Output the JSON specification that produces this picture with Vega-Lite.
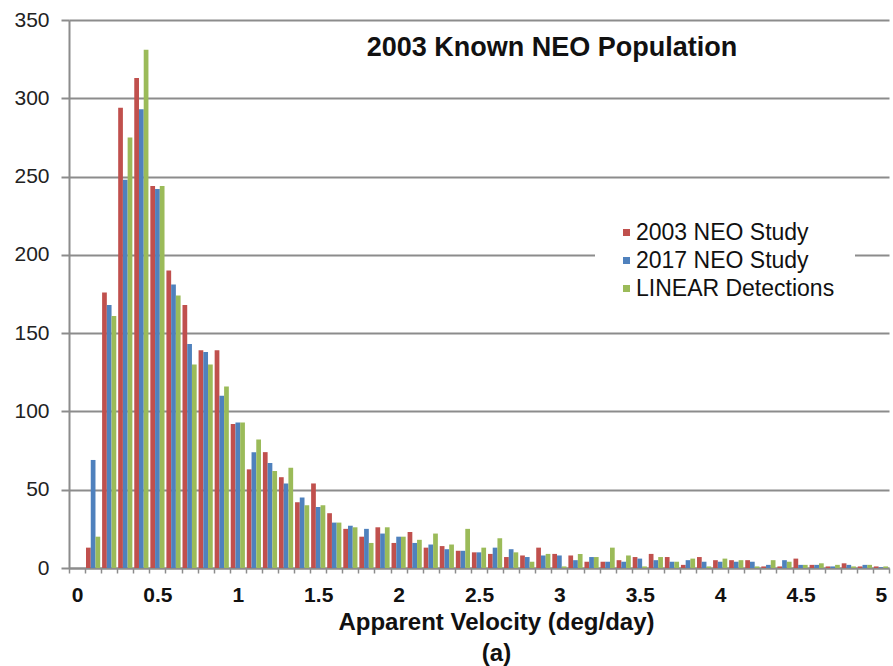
{
  "$schema": "https://vega.github.io/schema/vega-lite/v6.json",
  "width": 820,
  "height": 548,
  "autosize": "none",
  "padding": {"left": 69, "top": 20, "right": 4, "bottom": 98},
  "background": "white",
  "config": {"view": {"stroke": null}, "font": "Liberation Sans"},
  "title": {"text": "2003 Known NEO Population", "fontSize": 27, "fontWeight": "bold", "font": "Liberation Sans", "color": "#111111", "anchor": "middle", "dx": 73, "offset": -53},
  "data": {"values": [
    {"v": 0, "a": 0, "b": 0, "c": 0},
    {"v": 0.1, "a": 13, "b": 69, "c": 20},
    {"v": 0.2, "a": 176, "b": 168, "c": 161},
    {"v": 0.3, "a": 294, "b": 248, "c": 275},
    {"v": 0.4, "a": 313, "b": 293, "c": 331},
    {"v": 0.5, "a": 244, "b": 242, "c": 244},
    {"v": 0.6, "a": 190, "b": 181, "c": 174},
    {"v": 0.7, "a": 168, "b": 143, "c": 130},
    {"v": 0.8, "a": 139, "b": 138, "c": 130},
    {"v": 0.9, "a": 139, "b": 110, "c": 116},
    {"v": 1, "a": 92, "b": 93, "c": 93},
    {"v": 1.1, "a": 63, "b": 74, "c": 82},
    {"v": 1.2, "a": 74, "b": 67, "c": 62},
    {"v": 1.3, "a": 58, "b": 54, "c": 64},
    {"v": 1.4, "a": 42, "b": 45, "c": 40},
    {"v": 1.5, "a": 54, "b": 39, "c": 40},
    {"v": 1.6, "a": 35, "b": 29, "c": 29},
    {"v": 1.7, "a": 25, "b": 27, "c": 26},
    {"v": 1.8, "a": 20, "b": 25, "c": 16},
    {"v": 1.9, "a": 26, "b": 22, "c": 26},
    {"v": 2, "a": 16, "b": 20, "c": 20},
    {"v": 2.1, "a": 23, "b": 16, "c": 18},
    {"v": 2.2, "a": 13, "b": 15, "c": 22},
    {"v": 2.3, "a": 14, "b": 12, "c": 15},
    {"v": 2.4, "a": 11, "b": 11, "c": 25},
    {"v": 2.5, "a": 10, "b": 10, "c": 13},
    {"v": 2.6, "a": 9, "b": 13, "c": 19},
    {"v": 2.7, "a": 7, "b": 12, "c": 10},
    {"v": 2.8, "a": 8, "b": 7, "c": 4},
    {"v": 2.9, "a": 13, "b": 8, "c": 9},
    {"v": 3, "a": 9, "b": 8, "c": 1},
    {"v": 3.1, "a": 8, "b": 5, "c": 9},
    {"v": 3.2, "a": 4, "b": 7, "c": 7},
    {"v": 3.3, "a": 4, "b": 4, "c": 13},
    {"v": 3.4, "a": 5, "b": 4, "c": 8},
    {"v": 3.5, "a": 7, "b": 6, "c": 1},
    {"v": 3.6, "a": 9, "b": 5, "c": 7},
    {"v": 3.7, "a": 7, "b": 4, "c": 4},
    {"v": 3.8, "a": 2, "b": 5, "c": 6},
    {"v": 3.9, "a": 7, "b": 4, "c": 1},
    {"v": 4, "a": 5, "b": 4, "c": 6},
    {"v": 4.1, "a": 5, "b": 4, "c": 5},
    {"v": 4.2, "a": 5, "b": 4, "c": 1},
    {"v": 4.3, "a": 1, "b": 2, "c": 5},
    {"v": 4.4, "a": 1, "b": 5, "c": 4},
    {"v": 4.5, "a": 6, "b": 2, "c": 2},
    {"v": 4.6, "a": 2, "b": 2, "c": 3},
    {"v": 4.7, "a": 1, "b": 1, "c": 2},
    {"v": 4.8, "a": 3, "b": 2, "c": 1},
    {"v": 4.9, "a": 1, "b": 2, "c": 2},
    {"v": 5, "a": 1, "b": 0.5, "c": 1}
  ]},
  "transform": [
    {"fold": ["a", "b", "c"], "as": ["key", "n"]},
    {"lookup": "key", "from": {"data": {"values": [
      {"key": "a", "s": "2003 NEO Study"},
      {"key": "b", "s": "2017 NEO Study"},
      {"key": "c", "s": "LINEAR Detections"}
    ]}, "key": "key", "fields": ["s"]}}
  ],
  "mark": {"type": "bar"},
  "encoding": {
    "x": {
      "field": "v", "type": "ordinal",
      "scale": {"paddingInner": 0, "paddingOuter": 0},
      "axis": {
        "title": ["Apparent Velocity (deg/day)", "(a)"],
        "titleFontSize": 24, "titleFontWeight": "bold", "titleColor": "#111111",
        "titleX": 427, "titleY": 61, "titleBaseline": "alphabetic", "titleAlign": "center", "titleLineHeight": 31,
        "labelExpr": "round(datum.value*10) % 5 == 0 ? '' + datum.value : ''",
        "labelAngle": 0, "labelFontSize": 21, "labelFontWeight": "bold", "labelColor": "#111111",
        "labelBaseline": "alphabetic", "labelPadding": 28, "labelOverlap": false, "labelFlush": false,
        "tickBand": "extent", "tickSize": 5, "tickColor": "#8c8c8c", "tickWidth": 1.5,
        "domainColor": "#8c8c8c", "domainWidth": 2, "grid": false
      }
    },
    "xOffset": {"field": "s", "type": "nominal", "sort": ["2003 NEO Study", "2017 NEO Study", "LINEAR Detections"], "scale": {"paddingOuter": 0.2, "paddingInner": 0}},
    "y": {
      "field": "n", "type": "quantitative",
      "scale": {"domain": [0, 350], "nice": false},
      "axis": {
        "title": null, "values": [0, 50, 100, 150, 200, 250, 300, 350],
        "labelFontSize": 21, "labelColor": "#222222", "labelPadding": 12,
        "tickSize": 8, "tickColor": "#8c8c8c", "tickWidth": 2,
        "domainColor": "#8c8c8c", "domainWidth": 2,
        "gridColor": "#8c8c8c", "gridWidth": 2
      }
    },
    "color": {
      "field": "s", "type": "nominal",
      "sort": ["2003 NEO Study", "2017 NEO Study", "LINEAR Detections"],
      "scale": {"range": ["#C0504D", "#4F81BD", "#9BBB59"]},
      "legend": {
        "title": null, "orient": "none", "legendX": 526, "legendY": 181,
        "fillColor": "white", "padding": 20, "labelFontSize": 23, "labelColor": "#111111",
        "symbolType": "square", "symbolSize": 49, "rowPadding": 4, "labelOffset": -2,
        "symbolStrokeWidth": 0, "labelLimit": 400
      }
    }
  }
}
